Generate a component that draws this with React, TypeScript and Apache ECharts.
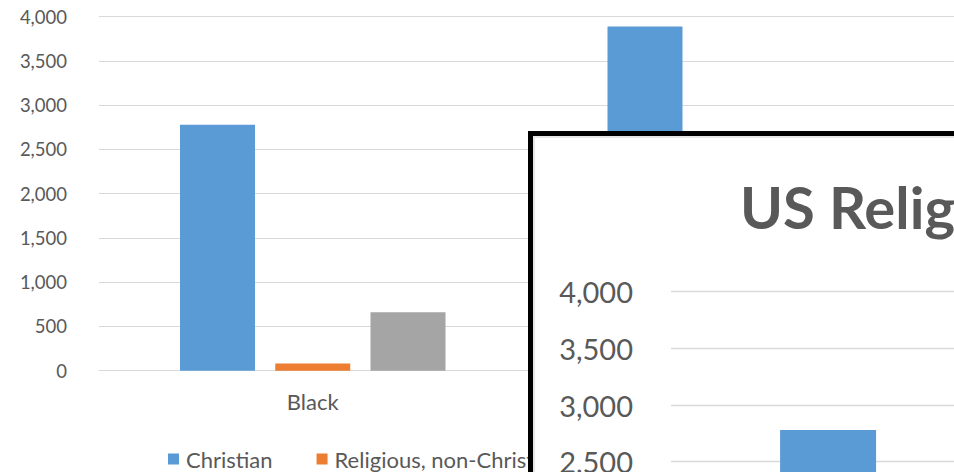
import React, { useEffect, useRef } from "react";
import * as echarts from "echarts";

const categories = ["Black", "White"];
const christian = [2780, 3890];
const nonChristian = [80, 120];
const unaffiliated = [660, 980];
const seriesNames = ["Christian", "Religious, non-Christian", "Unaffiliated"];
const colors = ["#5B9BD5", "#ED7D31", "#A5A5A5"];
const yTicks = { min: 0, max: 4000, interval: 500 };
const chartTitle = "US Religion by Race";

const FONT = "Lato, 'Open Sans', sans-serif";
const TXT = "#595959";
const GRID = "#D9D9D9";

function fmt(v: number) {
  return v.toLocaleString("en-US");
}

function buildSeries(barWidth: number, barGap: string) {
  const data = [christian, nonChristian, unaffiliated];
  return data.map((d, i) => ({
    type: "bar" as const,
    name: seriesNames[i],
    data: d,
    barWidth,
    barGap,
    itemStyle: { color: colors[i] },
  }));
}

function mainOption() {
  return {
    animation: false,
    backgroundColor: "transparent",
    legend: {
      left: 163,
      top: 443,
      itemWidth: 11,
      itemHeight: 11,
      itemGap: 44,
      icon: "rect",
      textStyle: { color: TXT, fontFamily: FONT, fontSize: 22, padding: [0, 0, 0, 2] },
      data: seriesNames,
    },
    grid: { left: 99, top: 16.7, width: 868, height: 354 },
    xAxis: {
      type: "category",
      data: categories,
      axisLine: { lineStyle: { color: GRID, width: 1 } },
      axisTick: { show: false },
      axisLabel: { color: TXT, fontFamily: FONT, fontSize: 22, margin: 20 },
    },
    yAxis: {
      type: "value",
      ...yTicks,
      axisLine: { show: false },
      axisTick: { show: false },
      splitLine: { lineStyle: { color: GRID, width: 1 } },
      axisLabel: { color: TXT, fontFamily: FONT, fontSize: 18.5, margin: 32, formatter: fmt },
    },
    series: buildSeries(75, "27%"),
  };
}

function insetOption() {
  return {
    animation: false,
    backgroundColor: "#ffffff",
    title: {
      text: chartTitle,
      left: 735,
      top: 172,
      textStyle: { color: TXT, fontFamily: FONT, fontSize: 58, fontWeight: "bold", lineHeight: 58 },
    },
    grid: { left: 671, top: 291.7, width: 1116, height: 453.3 },
    xAxis: {
      type: "category",
      data: categories,
      axisLine: { lineStyle: { color: GRID, width: 1.3 } },
      axisTick: { show: false },
      axisLabel: { color: TXT, fontFamily: FONT, fontSize: 27, margin: 28 },
    },
    yAxis: {
      type: "value",
      ...yTicks,
      axisLine: { show: false },
      axisTick: { show: false },
      splitLine: { lineStyle: { color: GRID, width: 1.3 } },
      axisLabel: { color: TXT, fontFamily: FONT, fontSize: 29, margin: 38, formatter: fmt },
    },
    series: buildSeries(96, "27%"),
  };
}

export default function App() {
  const mainRef = useRef<HTMLDivElement>(null);
  const insetRef = useRef<HTMLDivElement>(null);

  useEffect(() => {
    if (!mainRef.current || !insetRef.current) return;
    const c1 = echarts.init(mainRef.current, null, { renderer: "svg" });
    c1.setOption(mainOption());
    const c2 = echarts.init(insetRef.current, null, { renderer: "svg" });
    c2.setOption(insetOption());
    return () => {
      c1.dispose();
      c2.dispose();
    };
  }, []);

  return (
    <div
      style={{
        position: "fixed",
        left: 0,
        top: 0,
        width: 954,
        height: 472,
        overflow: "hidden",
        background: "#ffffff",
      }}
    >
      <div ref={mainRef} style={{ position: "absolute", left: 0, top: 0, width: 954, height: 472 }} />
      <div
        style={{
          position: "absolute",
          left: 528,
          top: 131,
          width: 700,
          height: 600,
          border: "5px solid #000000",
          background: "#ffffff",
          overflow: "hidden",
        }}
      >
        <div
          ref={insetRef}
          style={{ position: "absolute", left: -533, top: -136, width: 1800, height: 900 }}
        />
        <div
          style={{
            position: "absolute",
            left: 0,
            top: 0,
            right: 0,
            bottom: 0,
            border: "2px solid #E6E6E6",
            pointerEvents: "none",
          }}
        />
      </div>
    </div>
  );
}
